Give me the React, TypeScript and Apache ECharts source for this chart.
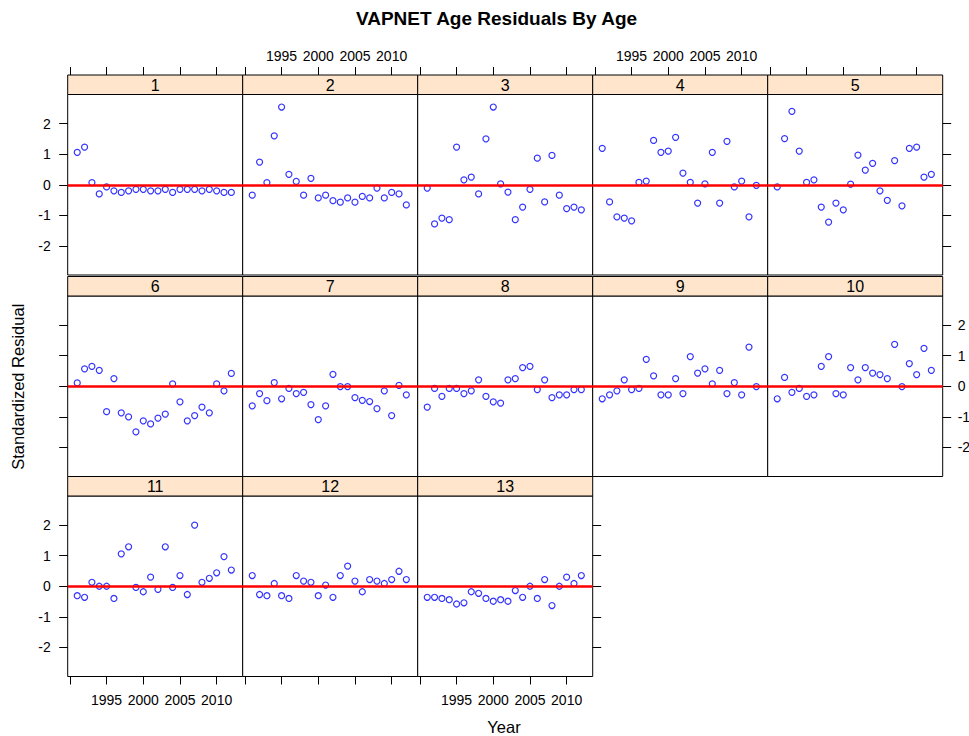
import React, { useEffect, useRef } from "react";
import * as echarts from "echarts";

const years = [1991, 1992, 1993, 1994, 1995, 1996, 1997, 1998, 1999, 2000, 2001, 2002, 2003, 2004, 2005, 2006, 2007, 2008, 2009, 2010, 2011, 2012];

const age1 = [1.06, 1.23, 0.07, -0.3, -0.07, -0.2, -0.25, -0.2, -0.15, -0.15, -0.2, -0.2, -0.15, -0.25, -0.15, -0.15, -0.15, -0.2, -0.15, -0.2, -0.25, -0.25];
const age2 = [-0.34, 0.74, 0.07, 1.6, 2.54, 0.34, 0.11, -0.34, 0.21, -0.43, -0.34, -0.52, -0.57, -0.43, -0.57, -0.38, -0.43, -0.11, -0.43, -0.25, -0.3, -0.66];
const age3 = [-0.11, -1.28, -1.09, -1.14, 1.23, 0.16, 0.25, -0.3, 1.5, 2.54, 0.03, -0.24, -1.14, -0.73, -0.15, 0.87, -0.56, 0.96, -0.34, -0.78, -0.73, -0.82];
const age4 = [1.19, -0.56, -1.05, -1.09, -1.18, 0.08, 0.12, 1.45, 1.06, 1.1, 1.55, 0.38, 0.08, -0.6, 0.03, 1.06, -0.6, 1.42, -0.07, 0.12, -1.05, -0.02];
const age5 = [-0.07, 1.51, 2.4, 1.1, 0.08, 0.16, -0.73, -1.22, -0.6, -0.82, 0.02, 0.97, 0.48, 0.7, -0.2, -0.51, 0.79, -0.69, 1.19, 1.23, 0.25, 0.34];
const age6 = [0.11, 0.57, 0.65, 0.52, -0.83, 0.25, -0.87, -1.0, -1.49, -1.13, -1.23, -1.04, -0.91, 0.08, -0.51, -1.13, -0.96, -0.68, -0.87, 0.08, -0.15, 0.42];
const age7 = [-0.64, -0.24, -0.47, 0.12, -0.41, -0.07, -0.24, -0.2, -0.6, -1.09, -0.64, 0.39, -0.01, -0.01, -0.37, -0.46, -0.5, -0.73, -0.15, -0.96, 0.03, -0.28];
const age8 = [-0.68, -0.07, -0.33, -0.07, -0.07, -0.24, -0.15, 0.21, -0.33, -0.51, -0.55, 0.21, 0.25, 0.61, 0.65, -0.11, 0.21, -0.37, -0.28, -0.28, -0.11, -0.11];
const age9 = [-0.41, -0.28, -0.15, 0.21, -0.11, -0.07, 0.88, 0.34, -0.28, -0.28, 0.25, -0.24, 0.97, 0.43, 0.57, 0.08, 0.52, -0.24, 0.12, -0.28, 1.28, -0.01];
const age10 = [-0.41, 0.29, -0.2, -0.07, -0.33, -0.28, 0.65, 0.97, -0.24, -0.28, 0.61, 0.21, 0.61, 0.43, 0.38, 0.25, 1.37, -0.01, 0.74, 0.38, 1.24, 0.52];
const age11 = [-0.31, -0.36, 0.13, 0.0, 0.0, -0.4, 1.06, 1.29, -0.04, -0.18, 0.3, -0.1, 1.29, -0.04, 0.35, -0.27, 2.0, 0.13, 0.26, 0.44, 0.97, 0.53];
const age12 = [0.35, -0.27, -0.31, 0.09, -0.31, -0.4, 0.35, 0.17, 0.13, -0.31, 0.04, -0.36, 0.35, 0.66, 0.17, -0.18, 0.22, 0.17, 0.09, 0.22, 0.49, 0.22];
const age13 = [-0.36, -0.36, -0.4, -0.44, -0.58, -0.54, -0.18, -0.23, -0.4, -0.49, -0.44, -0.49, -0.14, -0.36, 0.0, -0.4, 0.22, -0.63, 0.0, 0.3, 0.09, 0.35];

const panelLabels = ["1", "2", "3", "4", "5", "6", "7", "8", "9", "10", "11", "12", "13"];
const panelValues = [age1, age2, age3, age4, age5, age6, age7, age8, age9, age10, age11, age12, age13];
const xTickValues = [1990, 1995, 2000, 2005, 2010];
const xLabelValues = [1995, 2000, 2005, 2010];
const yTickValues = [-2, -1, 0, 1, 2];

const FONT = "'Liberation Sans', Arial, sans-serif";
const GX0 = 67.7;
const COLW = 175;
const PANEL_TOPS = [94.5, 296, 496];
const PANEL_H = 180.5;
const STRIP_H = 19.5;
const XMIN = 1989.7;
const XMAX = 2013.55;
const YMIN = -2.95;
const YMAX = 2.95;

export default function App() {
  const ref = useRef<HTMLDivElement>(null);

  useEffect(() => {
    if (!ref.current) return;
    const chart = echarts.init(ref.current, undefined, { renderer: "svg" });
    const n = panelValues.length;
    const grids: any[] = [];
    const xAxes: any[] = [];
    const yAxes: any[] = [];
    const series: any[] = [];
    const graphics: any[] = [];

    for (let i = 0; i < n; i++) {
      const r = Math.floor(i / 5);
      const c = i % 5;
      const rowCount = Math.min(5, n - r * 5);
      const isLast = c === rowCount - 1;
      const left = GX0 + COLW * c;
      const top = PANEL_TOPS[r];
      grids.push({
        left,
        top,
        width: COLW,
        height: PANEL_H,
        show: true,
        borderColor: "#000",
        borderWidth: 1,
        backgroundColor: "#fff",
        containLabel: false,
        outerBoundsMode: "none",
      });
      const xLabel = (r === 0 && c % 2 === 1) || (r === 2 && c % 2 === 0);
      xAxes.push({
        gridIndex: i,
        type: "value",
        min: XMIN,
        max: XMAX,
        position: r === 0 ? "top" : "bottom",
        offset: r === 0 ? STRIP_H : 0,
        axisLine: { show: false, onZero: false },
        axisTick: {
          show: r === 0 || r === 2,
          length: 8,
          inside: false,
          customValues: xTickValues,
          lineStyle: { color: "#000", width: 1 },
        },
        axisLabel: {
          show: xLabel,
          customValues: xLabelValues,
          formatter: (v: number) => String(v),
          fontSize: 14,
          fontFamily: FONT,
          color: "#000",
          margin: r === 0 ? 12 : 16,
        },
        splitLine: { show: false },
      });
      const yLabel = (c === 0 && r !== 1) || (isLast && r === 1);
      yAxes.push({
        gridIndex: i,
        type: "value",
        min: YMIN,
        max: YMAX,
        position: c === 0 ? "left" : "right",
        axisLine: { show: false, onZero: false },
        axisTick: {
          show: c === 0 || isLast,
          length: 8.5,
          inside: false,
          customValues: yTickValues,
          lineStyle: { color: "#000", width: 1 },
        },
        axisLabel: {
          show: yLabel,
          customValues: yTickValues,
          formatter: (v: number) => String(v),
          fontSize: 14,
          fontFamily: FONT,
          color: "#000",
          margin: c === 0 ? 17 : 15,
        },
        splitLine: { show: false },
      });
      series.push({
        type: "scatter",
        xAxisIndex: i,
        yAxisIndex: i,
        data: years.map((yr, k) => [yr, panelValues[i][k]]),
        symbol: "circle",
        symbolSize: 6,
        itemStyle: { color: "rgba(0,0,0,0)", borderColor: "#0000ff", borderWidth: 1.2 },
        emphasis: { disabled: true },
        markLine: {
          silent: true,
          symbol: ["none", "none"],
          label: { show: false },
          lineStyle: { color: "#ff0000", width: 2.5, type: "solid" },
          emphasis: { disabled: true },
          data: [{ yAxis: 0 }],
        },
      });
      graphics.push({
        type: "rect",
        shape: { x: left, y: top - STRIP_H, width: COLW, height: STRIP_H },
        style: { fill: "#ffe5cc", stroke: "#000", lineWidth: 1 },
        z: 10,
      });
      graphics.push({
        type: "text",
        x: left + COLW / 2,
        y: top - STRIP_H / 2 + 0.5,
        style: {
          text: panelLabels[i],
          font: `16px ${FONT}`,
          textAlign: "center",
          textVerticalAlign: "middle",
          fill: "#000",
        },
        z: 11,
      });
    }

    graphics.push({
      type: "text",
      x: 496.5,
      y: 18,
      style: {
        text: "VAPNET Age Residuals By Age",
        font: `bold 19px ${FONT}`,
        textAlign: "center",
        textVerticalAlign: "middle",
        fill: "#000",
      },
    });
    graphics.push({
      type: "text",
      x: 17.5,
      y: 386.7,
      rotation: Math.PI / 2,
      style: {
        text: "Standardized Residual",
        font: `16.5px ${FONT}`,
        textAlign: "center",
        textVerticalAlign: "middle",
        fill: "#000",
      },
    });
    graphics.push({
      type: "text",
      x: 504,
      y: 727,
      style: {
        text: "Year",
        font: `16.5px ${FONT}`,
        textAlign: "center",
        textVerticalAlign: "middle",
        fill: "#000",
      },
    });

    chart.setOption({
      animation: false,
      backgroundColor: "#fff",
      grid: grids,
      xAxis: xAxes,
      yAxis: yAxes,
      series,
      graphic: graphics,
    });
    return () => chart.dispose();
  }, []);

  return (
    <div
      ref={ref}
      style={{ position: "absolute", left: 0, top: 0, width: 969, height: 736, background: "#fff" }}
    />
  );
}
